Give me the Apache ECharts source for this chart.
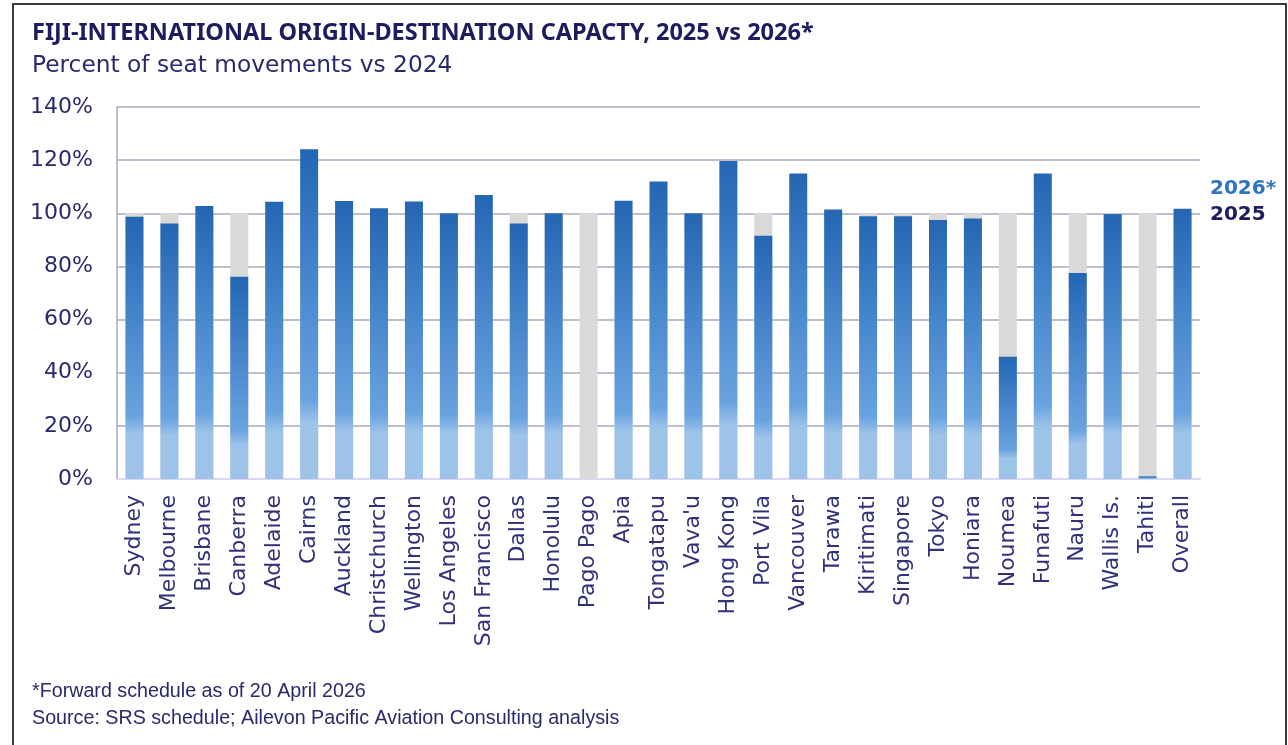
<!DOCTYPE html>
<html>
<head>
<meta charset="utf-8">
<title>Fiji international O-D capacity</title>
<script src="https://cdn.jsdelivr.net/npm/echarts@6/dist/echarts.min.js"></script>
<style>
  html, body { margin: 0; padding: 0; background: #fff; }
  #chart { width: 1288px; height: 745px; }
</style>
</head>
<body>
<div id="chart"></div>
<script>
  // destinations, left to right
  const cities = [
    'Sydney', 'Melbourne', 'Brisbane', 'Canberra', 'Adelaide', 'Cairns', 'Auckland',
    'Christchurch', 'Wellington', 'Los Angeles', 'San Francisco', 'Dallas', 'Honolulu',
    'Pago Pago', 'Apia', 'Tongatapu', "Vava'u", 'Hong Kong', 'Port Vila', 'Vancouver',
    'Tarawa', 'Kiritimati', 'Singapore', 'Tokyo', 'Honiara', 'Noumea', 'Funafuti',
    'Nauru', 'Wallis Is.', 'Tahiti', 'Overall'
  ]

  // percent of 2024 seat movements
  const cap2025 = [
    100, 100, 100, 100, 100, 100, 100, 100, 100, 100, 100, 100, 100, 100, 100, 100,
    100, 100, 100, 100, 100, 100, 100, 100, 100, 100, 100, 100, 100, 100, 100
  ]
  const cap2026 = [
    98.7, 96.2, 102.7, 76.1, 104.3, 124.1, 104.6, 101.9, 104.4, 100, 106.9, 96.2, 100,
    0, 104.7, 112, 100, 119.7, 91.5, 115, 101.4, 98.9, 98.9, 97.5, 98, 46, 115,
    77.5, 99.7, 1, 101.7
  ]

  const yTicks = { min: 0, max: 140, step: 20 }

  const navy = '#2b286b'
  const gridColor = '#aaa8c2'

  const chart = echarts.init(document.getElementById('chart'), null, { renderer: 'canvas' })

  const blueFill = new echarts.graphic.LinearGradient(0, 1, 0, 0, [
    { offset: 0, color: '#9dc3e9' },
    { offset: 0.17, color: '#9dc3e9' },
    { offset: 0.24, color: '#69a3df' },
    { offset: 0.6, color: '#4886cc' },
    { offset: 1, color: '#2466b3' },
  ])

  chart.setOption({
    animation: false,
    backgroundColor: '#fff',
    grid: {
      left: 117,
      right: 88,
      top: 107,
      bottom: 266,
    },
    xAxis: {
      type: 'category',
      data: cities,
      axisTick: { show: false },
      axisLine: { lineStyle: { color: '#d9d6f6', width: 2 } },
      axisLabel: {
        interval: 0,
        rotate: 90,
        margin: 16,
        color: '#33307a',
        fontSize: 22,
        fontFamily: 'DejaVu Sans',
      },
    },
    yAxis: {
      type: 'value',
      min: yTicks.min,
      max: yTicks.max,
      interval: yTicks.step,
      axisTick: { show: false },
      axisLine: { show: true, lineStyle: { color: gridColor, width: 1.5 } },
      splitLine: { lineStyle: { color: gridColor, width: 1.5 } },
      axisLabel: {
        formatter: '{value}%',
        margin: 24,
        color: navy,
        fontSize: 22,
        fontFamily: 'DejaVu Sans',
      },
    },
    series: [
      {
        name: '2025',
        type: 'bar',
        data: cap2025,
        barWidth: 18,
        barGap: '-100%',
        itemStyle: { color: '#d9d9d9' },
        silent: true,
      },
      {
        name: '2026*',
        type: 'bar',
        data: cap2026,
        barWidth: 18,
        itemStyle: { color: blueFill },
        silent: true,
      },
    ],
    graphic: [
      {
        type: 'rect',
        shape: { x: 13, y: 4, width: 1273, height: 760 },
        style: { fill: 'none', stroke: '#3a3a3a', lineWidth: 2 },
      },
      {
        type: 'text',
        left: 32,
        top: 21,
        style: {
          text: 'FIJI-INTERNATIONAL ORIGIN-DESTINATION CAPACTY, 2025 vs 2026*',
          fill: '#1f1b5e',
          font: 'bold 23.5px "Noto Sans"',
        },
      },
      {
        type: 'text',
        left: 32,
        top: 54,
        style: {
          text: 'Percent of seat movements vs 2024',
          fill: '#2b286b',
          font: '23.3px "DejaVu Sans"',
        },
      },
      {
        type: 'text',
        left: 1210,
        top: 179,
        style: { text: '2026*', fill: '#2f74c0', font: 'bold 20px "DejaVu Sans"' },
      },
      {
        type: 'text',
        left: 1210,
        top: 205,
        style: { text: '2025', fill: '#201b5e', font: 'bold 20px "DejaVu Sans"' },
      },
      {
        type: 'text',
        left: 32,
        top: 682,
        style: {
          text: '*Forward schedule as of 20 April 2026',
          fill: '#2b286b',
          font: '19.7px "Liberation Sans"',
        },
      },
      {
        type: 'text',
        left: 32,
        top: 709,
        style: {
          text: 'Source: SRS schedule; Ailevon Pacific Aviation Consulting analysis',
          fill: '#2b286b',
          font: '19.7px "Liberation Sans"',
        },
      },
    ],
  })
</script>
</body>
</html>
